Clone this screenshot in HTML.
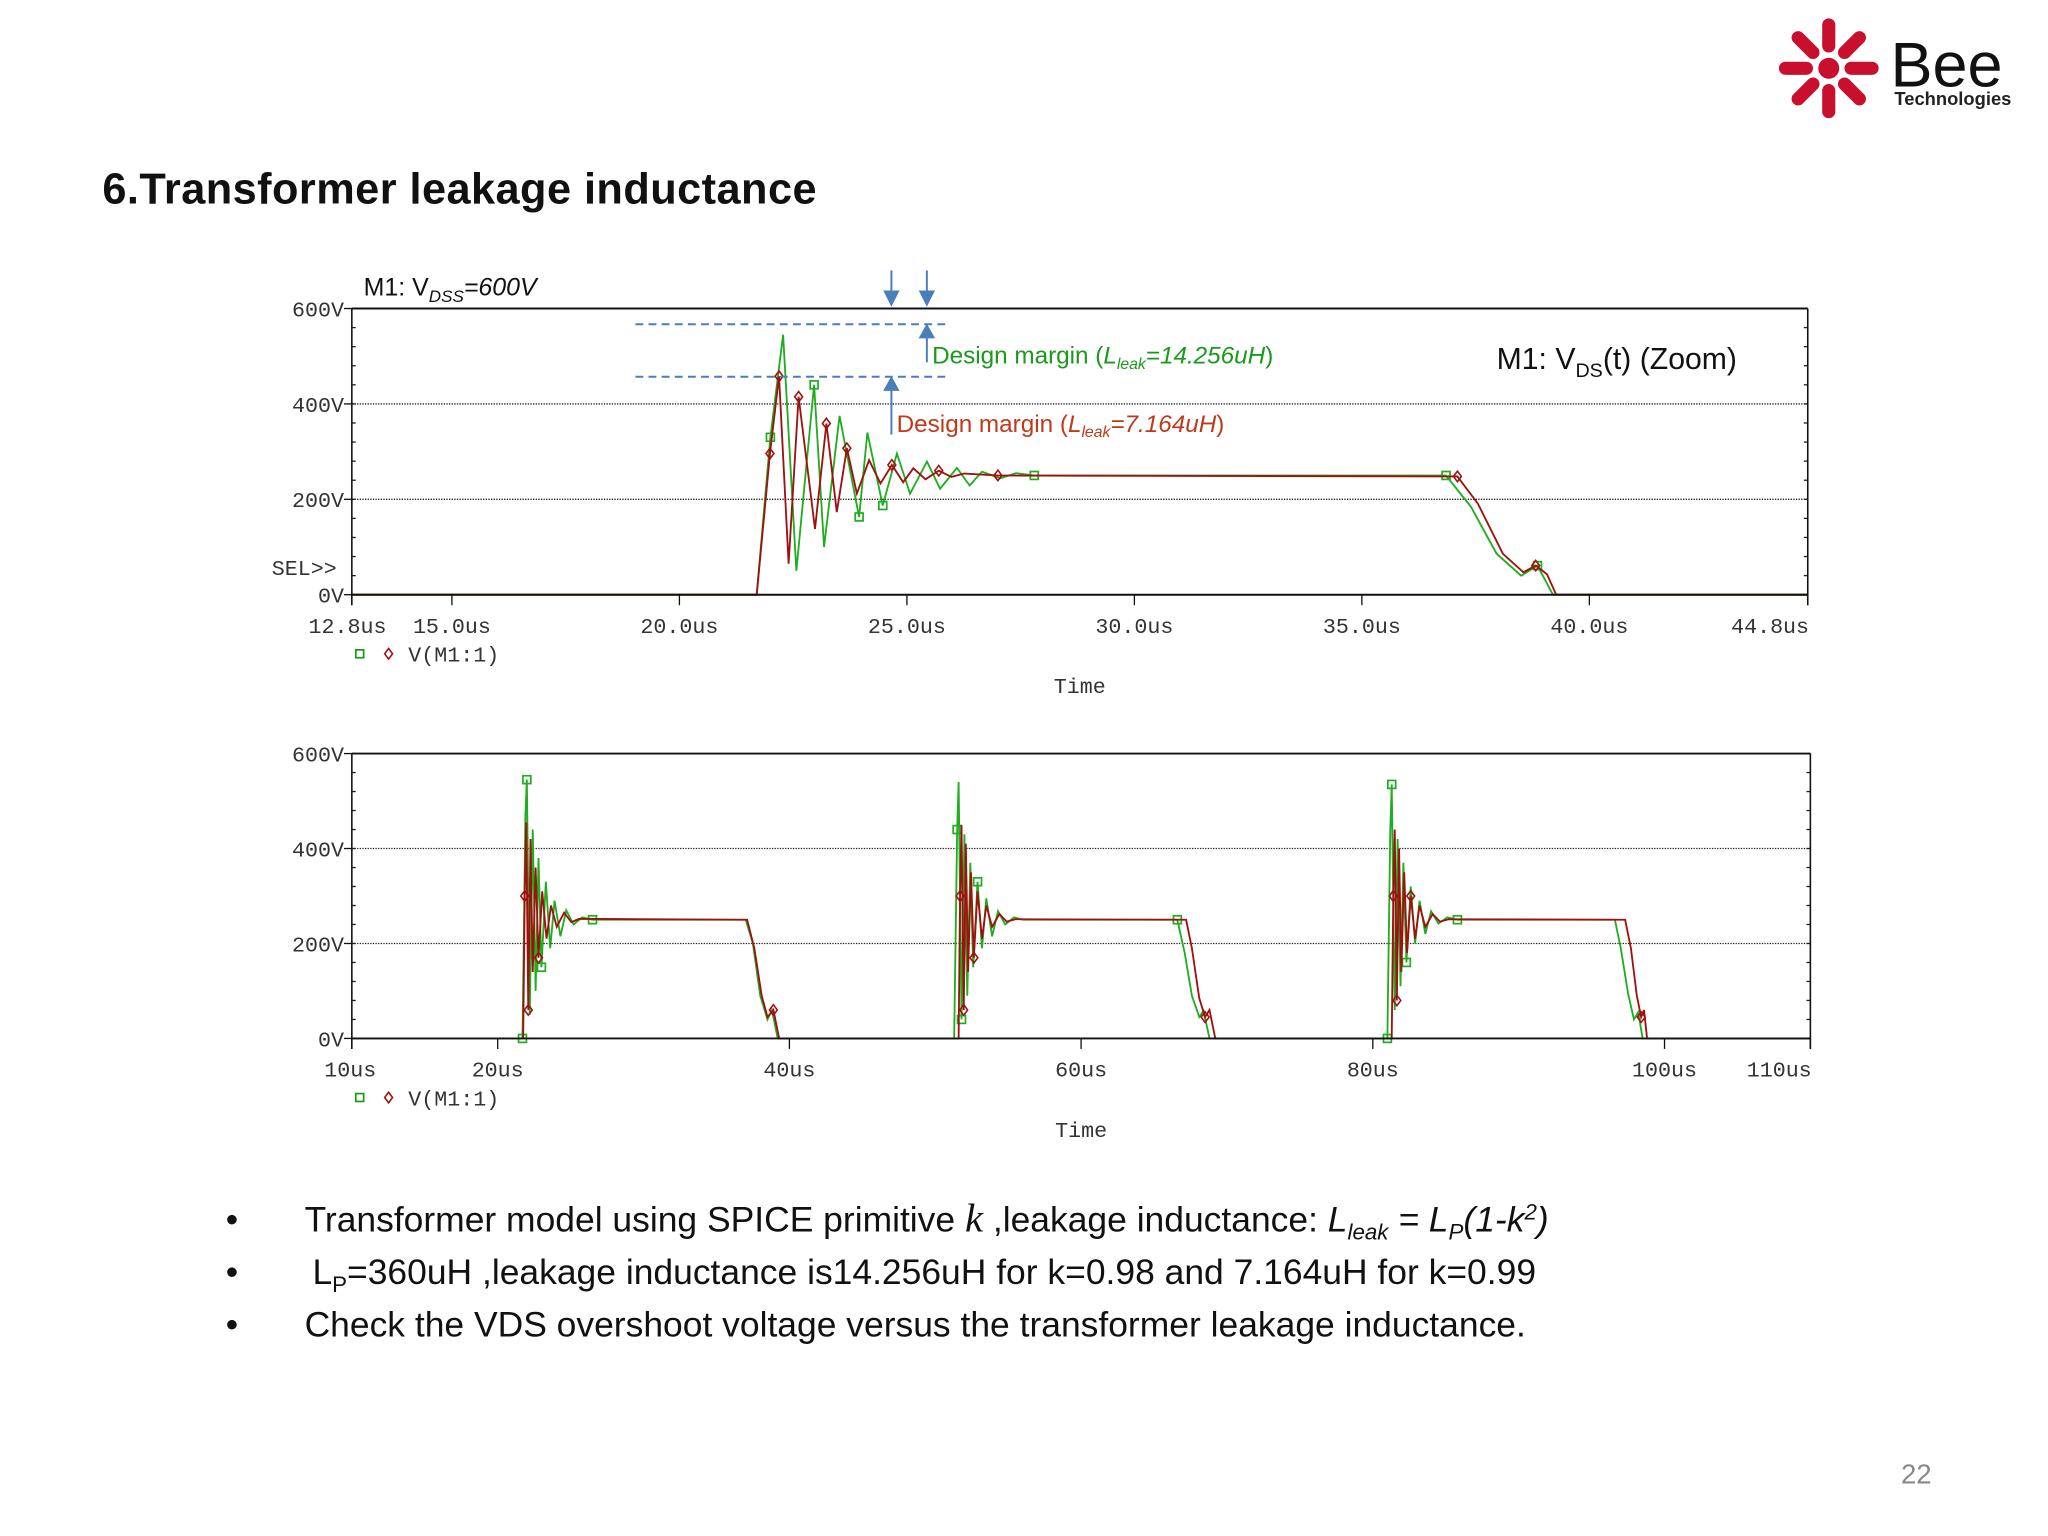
<!DOCTYPE html>
<html><head><meta charset="utf-8"><style>
html,body{margin:0;padding:0;background:#fff;}
svg{display:block;}
.mono{font-family:"Liberation Mono",monospace;font-size:16.5px;fill:#333;}
.sans{font-family:"Liberation Sans",sans-serif;}
</style></head><body>
<svg id="root" width="2048" height="1536" viewBox="0 0 1560 1170" xmlns="http://www.w3.org/2000/svg">
<g>
  <g id="star" transform="translate(1393,52)"></g>
  <circle cx="1393" cy="52" r="8" fill="#c8102e"/>
  <text x="1440" y="66" class="sans" font-size="48" fill="#111">Bee</text>
  <text x="1443" y="80" class="sans" font-size="14" font-weight="bold" fill="#222">Technologies</text>
</g>
<text x="78" y="155" class="sans" font-size="33" font-weight="bold" fill="#111" textLength="544">6.Transformer leakage inductance</text>

<g id="top"></g>
<g id="bot"></g>

<g>
  <text x="277" y="225" class="sans" font-size="19" fill="#111">M1: V<tspan font-size="13" dy="5" font-style="italic">DSS</tspan><tspan dy="-5" font-style="italic">=600V</tspan></text>
  <text x="1140" y="281" class="sans" font-size="23" fill="#111">M1: V<tspan font-size="15" dy="6">DS</tspan><tspan dy="-6">(t) (Zoom)</tspan></text>
  <line x1="484" y1="247" x2="720" y2="247" stroke="#4a7ebb" stroke-width="1.5" stroke-dasharray="6,4"/>
  <line x1="484" y1="287" x2="720" y2="287" stroke="#4a7ebb" stroke-width="1.5" stroke-dasharray="6,4"/>
  <g stroke="#4a7ebb" stroke-width="1.5" fill="#4a7ebb">
    <line x1="679" y1="206" x2="679" y2="226"/><polygon points="674,222 684,222 679,232"/>
    <line x1="706" y1="206" x2="706" y2="226"/><polygon points="701,222 711,222 706,232"/>
    <line x1="706" y1="276" x2="706" y2="254"/><polygon points="701,257 711,257 706,248"/>
    <line x1="679" y1="331" x2="679" y2="294"/><polygon points="674,297 684,297 679,288"/>
  </g>
  <text x="710" y="277" class="sans" font-size="18.5" fill="#1a9a1a">Design margin (<tspan font-style="italic">L<tspan font-size="12" dy="4">leak</tspan><tspan dy="-4">=14.256uH</tspan></tspan>)</text>
  <text x="683" y="329" class="sans" font-size="18.5" fill="#c0391b">Design margin (<tspan font-style="italic">L<tspan font-size="12" dy="4">leak</tspan><tspan dy="-4">=7.164uH</tspan></tspan>)</text>
</g>

<g class="sans" font-size="27" fill="#111">
  <text x="172" y="938">•</text><text x="172" y="978">•</text><text x="172" y="1018">•</text>
  <text x="232" y="938">Transformer model using SPICE primitive <tspan font-family="Liberation Serif" font-style="italic" font-size="31">k</tspan> ,leakage inductance: <tspan font-style="italic">L<tspan font-size="17" dy="6">leak</tspan><tspan dy="-6"> = L</tspan><tspan font-size="17" dy="6">P</tspan><tspan dy="-6">(1-k</tspan><tspan font-size="17" dy="-9">2</tspan><tspan dy="9">)</tspan></tspan></text>
  <text x="238" y="978">L<tspan font-size="17" dy="6">P</tspan><tspan dy="-6">=360uH ,leakage inductance is14.256uH for k=0.98 and 7.164uH for k=0.99</tspan></text>
  <text x="232" y="1018">Check the VDS overshoot voltage versus the transformer leakage inductance.</text>
</g>
<text x="1448" y="1130" class="sans" font-size="21" fill="#888">22</text>
</svg>
<script>
// ---- Top (zoom) chart data: time in us, voltage in V ----
const topTicks = [12.8, 15.0, 20.0, 25.0, 30.0, 35.0, 40.0, 44.8];
const topTickLabels = ["12.8us", "15.0us", "20.0us", "25.0us", "30.0us", "35.0us", "40.0us", "44.8us"];
const yTicks = [0, 200, 400, 600];
const yTickLabels = ["0V", "200V", "400V", "600V"];
const topGreenT = [12.8,21.7,22.0,22.28,22.57,22.96,23.18,23.52,23.95,24.13,24.47,24.78,25.07,25.44,25.73,26.1,26.38,26.65,27.05,27.4,27.8,36.85,37.4,37.96,38.5,38.86,39.2,44.8];
const topGreenV = [0,0,330,545,50,440,100,375,163,340,187,296,212,279,222,266,229,258,244,255,250,250,184,86,40,61,0,0];
const topRedT = [12.8,21.7,21.99,22.19,22.4,22.62,22.98,23.23,23.46,23.68,23.9,24.17,24.42,24.67,24.92,25.14,25.41,25.7,25.98,26.26,27.0,37.1,37.55,38.1,38.55,38.82,39.07,39.27,44.8];
const topRedV = [0,0,296,458,65,415,138,359,173,307,212,282,233,272,236,265,242,260,247,254,250,248,191,86,47,61,43,0,0];
const topGreenMarks = [2,5,8,10,20,21,25];
const topRedMarks = [2,3,5,7,9,13,17,20,21,25];

// ---- Bottom (full) chart data ----
const botTicks = [10, 20, 40, 60, 80, 100, 110];
const botTickLabels = ["10us", "20us", "40us", "60us", "80us", "100us", "110us"];
const botGreenT = [10,21.7,21.9,22.0,22.2,22.4,22.6,22.8,23.0,23.3,23.6,23.9,24.3,24.7,25.2,25.8,26.5,37.0,37.5,38.0,38.5,38.8,39.2,
  51.3,51.5,51.6,51.8,52.0,52.2,52.4,52.6,52.9,53.2,53.5,53.9,54.3,54.8,55.4,56.0,66.6,67.1,67.6,68.1,68.4,68.8,
  81.0,81.2,81.3,81.5,81.7,81.9,82.1,82.3,82.6,82.9,83.2,83.6,84.0,84.5,85.1,85.8,96.6,97.0,97.5,97.9,98.2,98.5,110];
const botGreenV = [0,0,470,545,50,440,100,380,150,330,190,290,215,270,240,255,250,250,200,90,40,60,0,
  0,440,540,40,430,90,370,150,330,190,295,215,268,240,255,250,250,180,90,45,58,0,
  0,440,535,60,420,110,370,160,320,200,290,220,268,242,255,250,250,190,95,40,55,0,0];
const botRedT = [21.75,21.85,21.95,22.1,22.25,22.4,22.6,22.8,23.05,23.35,23.65,24.05,24.55,25.05,25.6,37.1,37.6,38.1,38.5,38.9,39.3,
  51.6,51.7,51.8,51.95,52.1,52.25,52.45,52.65,52.9,53.2,53.5,53.9,54.4,54.9,55.5,67.2,67.6,68.1,68.5,68.8,69.2,
  81.3,81.4,81.5,81.65,81.8,81.95,82.15,82.35,82.6,82.9,83.2,83.6,84.1,84.6,85.2,97.3,97.7,98.1,98.4,98.6,98.8,110];
const botRedV = [0,300,455,60,420,140,360,170,310,210,280,235,265,245,252,250,190,90,45,60,0,
  0,300,450,60,410,140,350,170,310,210,280,235,262,246,251,250,190,85,45,60,0,
  0,300,440,80,400,140,350,180,300,210,280,235,262,246,251,250,190,90,45,60,0,0];
const botGreenMarks = [1,3,8,16,24,26,31,39,45,47,52,60];
const botRedMarks = [1,3,7,19,22,24,28,39,43,45,50,60];

const NS = "http://www.w3.org/2000/svg";
function mk(tag, attrs, parent) {
  const e = document.createElementNS(NS, tag);
  for (const k in attrs) e.setAttribute(k, attrs[k]);
  parent.appendChild(e);
  return e;
}
function chart(g, box, xmin, xmax, ticks, tickLabels, series, sel) {
  const xs = t => box.l + (t - xmin) / (xmax - xmin) * (box.r - box.l);
  const ys = v => box.b - v / 600 * (box.b - box.t);
  [200, 400].forEach(v => {
    const gl = mk("line", {x1: box.l, x2: box.r, y1: ys(v), y2: ys(v), stroke: "#222", "stroke-width": 1, "stroke-dasharray": "1,1"}, g);
    
    
  });
  for (let v = 0; v <= 600; v += 40) {
    mk("line", {x1: box.l, x2: box.l + 3, y1: ys(v), y2: ys(v), stroke: "#222"}, g);
    mk("line", {x1: box.r - 3, x2: box.r, y1: ys(v), y2: ys(v), stroke: "#222"}, g);
  }
  series.forEach(s => {
    let d = "";
    s.t.forEach((t, i) => { d += (i ? "L" : "M") + xs(t).toFixed(1) + "," + ys(s.v[i]).toFixed(1); });
    const p = mk("path", {d: d, fill: "none", stroke: s.c, "stroke-width": 1.4}, g);
    
    
    s.m.forEach(i => {
      const x = xs(s.t[i]), y = ys(s.v[i]);
      let m;
      if (s.sq) m = mk("rect", {x: x - 3, y: y - 3, width: 6, height: 6, fill: "none", stroke: s.c, "stroke-width": 1.3}, g);
      else m = mk("polygon", {points: `${x},${y-4} ${x+3},${y} ${x},${y+4} ${x-3},${y}`, fill: "none", stroke: s.c, "stroke-width": 1.2}, g);
      
      
    });
  });
  mk("line", {x1: box.l, x2: box.r, y1: box.t, y2: box.t, stroke: "#111", "stroke-width": 1.5}, g);
  mk("line", {x1: box.l, x2: box.r, y1: box.b, y2: box.b, stroke: "#111", "stroke-width": 1.5}, g);
  mk("line", {x1: box.l, x2: box.l, y1: box.t, y2: box.b + 8, stroke: "#111", "stroke-width": 1.2}, g);
  mk("line", {x1: box.r, x2: box.r, y1: box.t, y2: box.b + 8, stroke: "#111", "stroke-width": 1.2}, g);
  yTicks.forEach((v, i) => {
    mk("line", {x1: box.l - 6, x2: box.l, y1: ys(v), y2: ys(v), stroke: "#111"}, g);
    const tx = mk("text", {x: box.l - 6, y: ys(v) + 6, "text-anchor": "end", class: "mono"}, g);
    tx.textContent = yTickLabels[i];
    
    
  });
  ticks.forEach((t, i) => {
    mk("line", {x1: xs(t), x2: xs(t), y1: box.b, y2: box.b + 8, stroke: "#111"}, g);
    let anchor = "middle";
    if (i === 0) anchor = "start";
    if (i === ticks.length - 1) anchor = "end";
    const tx = mk("text", {x: i === 0 ? xs(t) - 33 + (tickLabels[0].length < 5 ? 12 : 0) : (i === ticks.length - 1 ? xs(t) + 1 : xs(t)), y: box.b + 29, "text-anchor": anchor, class: "mono"}, g);
    tx.textContent = tickLabels[i];
    
    
  });
  if (sel) {
    const s = mk("text", {x: 207, y: box.b - 15, class: "mono"}, g);
    s.textContent = "SEL>>";
    
    
  }
  const lg = mk("g", {}, g);
  
  
  mk("rect", {x: 271, y: box.b + 42, width: 6, height: 6, fill: "none", stroke: "#1a9a1a", "stroke-width": 1.3}, lg);
  mk("polygon", {points: `296,${box.b+41} 299,${box.b+45} 296,${box.b+49} 293,${box.b+45}`, fill: "none", stroke: "#a01010", "stroke-width": 1.2}, lg);
  const lt = mk("text", {x: 311, y: box.b + 51, class: "mono"}, lg);
  lt.textContent = "V(M1:1)";
  const tt = mk("text", {x: (box.l + box.r) / 2, y: box.b + 75, "text-anchor": "middle", class: "mono"}, g);
  tt.textContent = "Time";
  
  
}
chart(document.getElementById("top"), {l: 268, r: 1377, t: 235, b: 453}, 12.8, 44.8, topTicks, topTickLabels, [
  {t: topGreenT, v: topGreenV, c: "#1fae1f", m: topGreenMarks, sq: true, name: "series-green-14uH"},
  {t: topRedT, v: topRedV, c: "#a01010", m: topRedMarks, sq: false, name: "series-red-7uH"}
], true);
chart(document.getElementById("bot"), {l: 268, r: 1379, t: 574, b: 791}, 10, 110, botTicks, botTickLabels, [
  {t: botGreenT, v: botGreenV, c: "#1fae1f", m: botGreenMarks, sq: true, name: "series-green-14uH"},
  {t: botRedT, v: botRedV, c: "#a01010", m: botRedMarks, sq: false, name: "series-red-7uH"}
], false);
const star = document.getElementById("star");
for (let i = 0; i < 8; i++) {
  const a = i * 45;
  const r = mk("rect", {x: 12, y: -5, width: 26, height: 10, rx: 5, fill: "#c8102e", transform: `rotate(${a})`}, star);
  
  
}
</script>
</body></html>
